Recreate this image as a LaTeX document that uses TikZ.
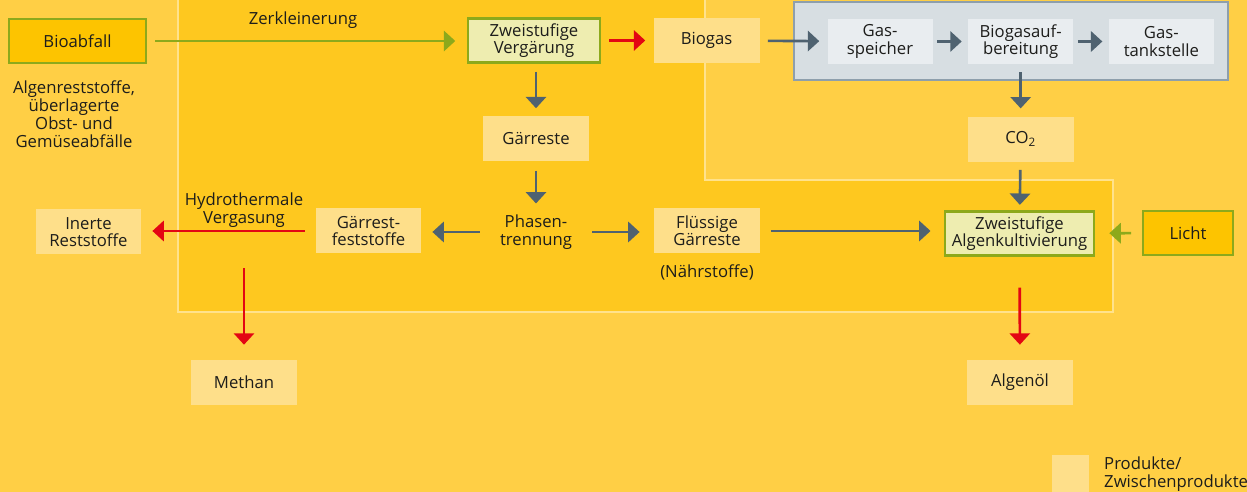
\documentclass[tikz,border=0pt]{standalone}
\usepackage{fontspec}
\setmainfont{Open Sans}
\usetikzlibrary{arrows.meta, positioning, calc}
\definecolor{bgyellow}{RGB}{255,207,69}
\definecolor{coreyellow}{RGB}{254,200,31}
\definecolor{corerim}{RGB}{255,226,140}
\definecolor{prodfill}{RGB}{254,223,138}
\definecolor{stepfill}{RGB}{238,237,176}
\definecolor{inputfill}{RGB}{253,196,0}
\definecolor{leafgreen}{RGB}{141,169,27}
\definecolor{slate}{RGB}{79,98,112}
\definecolor{signalred}{RGB}{227,6,19}
\definecolor{gasframe}{RGB}{215,222,226}
\definecolor{gasrim}{RGB}{142,159,172}
\definecolor{gasfill}{RGB}{233,237,240}
\definecolor{ink}{RGB}{29,29,27}
\tikzset{
  prodbox/.style={rectangle, fill=prodfill, minimum width=#1,
              minimum height=0.9cm, align=center, inner sep=1pt},
  prodbox/.default=2.12cm,
  stepbox/.style={rectangle, draw=leafgreen, line width=1.5pt,
              fill=stepfill, minimum width=#1, minimum height=0.88cm,
              align=center, inner sep=1pt},
  stepbox/.default=2.64cm,
  inputbox/.style={rectangle, draw=leafgreen, line width=1.5pt,
              fill=inputfill, minimum width=#1, minimum height=0.88cm,
              align=center, inner sep=1pt},
  inputbox/.default=2.74cm,
  gasbox/.style={rectangle, fill=gasfill, minimum width=2.1cm,
              minimum height=0.9cm, align=center, inner sep=1pt},
  arrow/.style={-{Triangle[length=6.5pt, width=11.5pt]}, line width=1.5pt,
              color=slate, shorten <=4.5pt, shorten >=4.5pt},
  redarrow/.style={arrow, color=signalred},
  greenarrow/.style={arrow, color=leafgreen},
}

\begin{document}
\begin{tikzpicture}[x=0.02cm, y=-0.02cm,
    every node/.style={font={\fontsize{9.5}{9.9}\selectfont}, text=ink, align=center}]
  \useasboundingbox (0,0) rectangle (1247,492);
  \fill[bgyellow] (0,0) rectangle (1247,492);
  % core process area
  \draw[corerim, line width=1.2pt, fill=coreyellow]
    (178,-10) -- (178,312) -- (1113,312) -- (1113,180) -- (705,180) -- (705,-10);
  % gas treatment frame
  \draw[gasrim, fill=gasframe, line width=1.5pt] (794,2) rectangle (1228,80);

  \node[inputbox] (bio) at (77.5,41) {Bioabfall};
  \node[font={\fontsize{9.5}{10.2}\selectfont}] (rest) at (74,114) {Algenreststoffe,\\überlagerte\\Obst- und\\Gemüseabfälle};
  \node (zerkl) at (303,20) {Zerkleinerung};
  \node[stepbox] (vergaer) at (534,40.5) {Zweistufige\\Vergärung};
  \node[prodbox] (biogas) at (706.5,40.5) {Biogas};

  \node[gasbox] (speicher) at (880,41.5) {Gas-\\speicher};
  \node[gasbox, right=0.7cm of speicher] (aufb) {Biogasauf-\\bereitung};
  \node[gasbox, right=0.7cm of aufb] (tank) {Gas-\\tankstelle};
  \node[prodbox, below=1.04cm of aufb] (co2) {CO\textsubscript{2}};

  \node[prodbox] (gaerreste) at (536,139) {Gärreste};
  \node (phasen) at (536,232) {Phasen-\\trennung};
  \node[prodbox] (fest) at (368.5,231) {Gärrest-\\feststoffe};
  \node[prodbox] (fluessig) at (707,231) {Flüssige\\Gärreste};
  \node (naehr) at (707,272) {(Nährstoffe)};
  \node[stepbox=2.98cm] (algen) at (1019.5,233.5) {Zweistufige\\Algenkultivierung};
  \node[inputbox=1.8cm] (licht) at (1188,233) {Licht};

  \node (hydro) at (244,210) {Hydrothermale\\Vergasung};
  \node[prodbox] (inert) at (88.5,232) {Inerte\\Reststoffe};
  \node[prodbox] (methan) at (244,382.5) {Methan};
  \node[prodbox] (oel) at (1020,382.5) {Algenöl};

  % legend
  \node[prodbox=0.74cm, minimum height=0.74cm] (legbox) at (1070.5,473.5) {};
  \node[anchor=west, align=left] (legtext) at (1098,474) {Produkte/\\Zwischenprodukte};

  \draw[greenarrow, shorten >=6.5pt] (bio.east) -- (bio.east -| vergaer.west);
  \draw[redarrow] (vergaer) -- (biogas);
  \draw[arrow] (biogas) -- (speicher);
  \draw[arrow, shorten <=2.5pt, shorten >=3.5pt] (speicher) -- (aufb);
  \draw[arrow, shorten <=2.5pt, shorten >=3.5pt] (aufb) -- (tank);
  \draw[arrow] (aufb) -- (co2);
  \draw[arrow, shorten >=3pt] (co2) -- (algen);
  \draw[arrow] (vergaer.south -| gaerreste) -- (gaerreste);
  \draw[arrow, shorten <=5pt, shorten >=3pt] (gaerreste) -- (phasen);
  \draw[arrow, shorten <=8pt, shorten >=6pt] (phasen.west) -- (phasen.west -| fest.east);
  \draw[arrow, shorten <=8pt, shorten >=8pt] (phasen.east) -- (phasen.east -| fluessig.west);
  \draw[arrow, shorten <=6pt, shorten >=7.5pt] (fluessig.east) -- (fluessig.east -| algen.west);
  \draw[greenarrow, shorten <=6pt, shorten >=8pt] (licht) -- (algen);
  \draw[redarrow, shorten <=6pt, shorten >=6pt] (fest.west) -- (fest.west -| inert.east);
  \draw[redarrow, shorten <=20pt, shorten >=8.5pt] (hydro) -- (methan);
  \draw[redarrow, shorten <=17.5pt, shorten >=8.5pt] (algen) -- (oel);
\end{tikzpicture}
\end{document}
